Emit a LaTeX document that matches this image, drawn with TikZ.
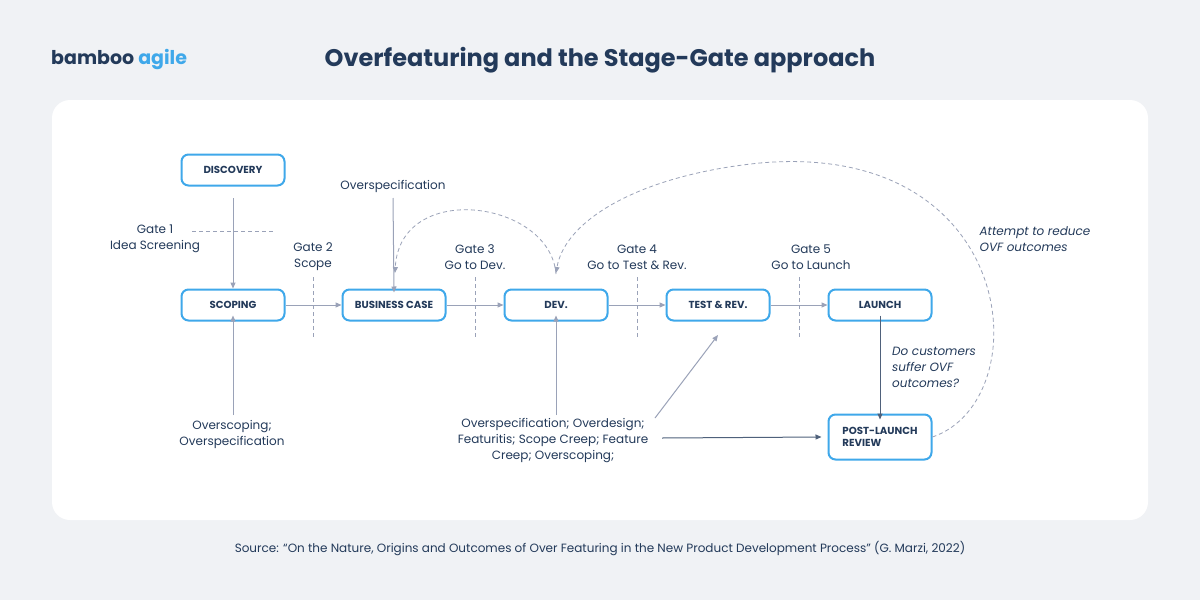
\documentclass[tikz,border=0pt]{standalone}
\usepackage{fontspec}
\setmainfont{Poppins}
\usetikzlibrary{arrows.meta}
\definecolor{navy}{HTML}{233A5A}
\definecolor{bblue}{HTML}{3FA8EA}
\definecolor{agr}{HTML}{9AA2B8}
\definecolor{bg}{HTML}{F0F2F5}
\begin{document}
\begin{tikzpicture}[x=1pt,y=-1pt,
 box/.style={draw=bblue,line width=2pt,rounded corners=7pt,fill=white,minimum width=103pt,minimum height=31pt,font=\fontsize{10.2}{12}\selectfont\bfseries,text=navy,align=left},
 lbl/.style={font=\fontsize{12}{16}\selectfont,text=navy,align=center},
 ital/.style={font=\fontsize{12}{16}\selectfont\itshape,text=navy,align=left},
 arr/.style={draw=agr,line width=1pt,-{Triangle[length=6pt,width=5pt]}},
 darr/.style={draw=navy!80,line width=1pt,-{Triangle[length=6pt,width=5pt]}},
 gate/.style={draw=agr,line width=1pt,dash pattern=on 4pt off 3pt},
 curve/.style={draw=agr,line width=0.8pt,dash pattern=on 4pt off 3pt,-{Triangle[length=6pt,width=5pt]}}]
\fill[bg] (0,0) rectangle (1200,600);
\fill[white,rounded corners=18pt] (52,100) rectangle (1148,520);
\node[anchor=west,font=\fontsize{19}{22}\selectfont\bfseries,inner sep=0pt] (logo) at (51,60) {\textcolor{navy}{bamboo} \textcolor{bblue}{agile}};
\node[font=\fontsize{24}{28}\selectfont\bfseries,text=navy] (title) at (600,60) {Overfeaturing and the Stage-Gate approach};
\node[box] (disc) at (233,170) {DISCOVERY};
\node[box] (scop) at (233,305) {SCOPING};
\node[box] (bc) at (394,305) {BUSINESS CASE};
\node[box] (dev) at (556,305) {DEV.};
\node[box] (test) at (718,305) {TEST \& REV.};
\node[box] (laun) at (880,305) {LAUNCH};
\node[box,minimum height=45pt] (post) at (880,437) {POST-LAUNCH\\REVIEW};
% gates
\draw[gate] (192,231) -- (273,231);
\foreach \x in {313,475,637,799} \draw[gate] (\x,277) -- (\x,338);
\node[lbl] (g1) at (155,239) {Gate 1\\Idea Screening};
\node[lbl] (g2) at (313,257) {Gate 2\\Scope};
\node[lbl] (g3) at (475,257) {Gate 3\\Go to Dev.};
\node[lbl] (g4) at (637,257) {Gate 4\\Go to Test \& Rev.};
\node[lbl] (g5) at (811,257) {Gate 5\\Go to Launch};
% flow
\draw[arr] (233,198) -- (scop.north);
\draw[arr] (scop) -- (bc);
\draw[arr] (bc) -- (dev);
\draw[arr] (dev) -- (test);
\draw[arr] (test) -- (laun);
\node[lbl] (os1) at (393,186) {Overspecification};
\draw[arr] (393,198) -- ([yshift=-4pt]bc.north);
\node[lbl] (os2) at (232,434) {Overscoping;\\Overspecification};
\draw[arr] (233,415) -- ([yshift=6pt]scop.south);
\node[lbl] (bot) at (553,441) {Overspecification; Overdesign;\\Featuritis; Scope Creep; Feature\\Creep; Overscoping;};
\draw[arr] (556,415) -- ([yshift=6pt]dev.south);
\coordinate (dg) at (655,418);
\draw[arr] (dg) -- (718,335);
\coordinate (hs) at (662,438);
\draw[darr] (hs) -- ([xshift=-6pt]post.west);
\draw[darr] ([yshift=6pt]laun.south) -- ([yshift=-6pt]post.north);
\node[ital] (q) at (934,367) {Do customers\\suffer OVF\\outcomes?};
\node[ital] (att) at (1035,239) {Attempt to reduce\\OVF outcomes};
\draw[curve] (556,274) .. controls (550,200) and (400,180) .. (395,273);
\draw[curve] (post.east) .. controls (1040,400) and (1020,140) .. (760,163) .. controls (640,175) and (565,220) .. (556,273);
\node[lbl] (src) at (600,549) {Source: “On the Nature, Origins and Outcomes of Over Featuring in the New Product Development Process” (G. Marzi, 2022)};
\end{tikzpicture}
\end{document}
